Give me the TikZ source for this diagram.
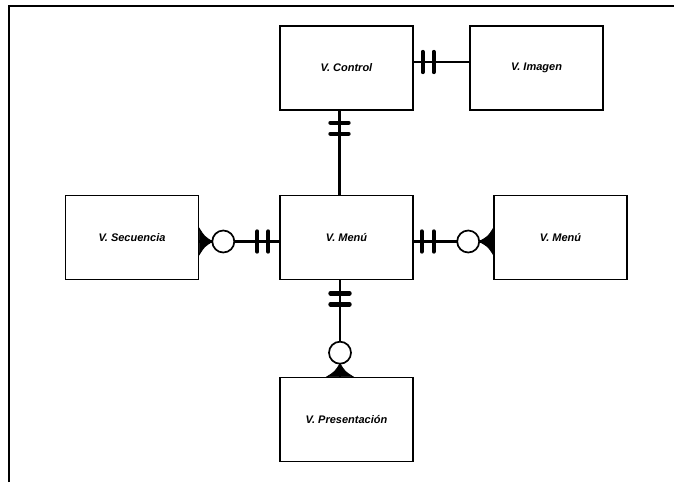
\documentclass[tikz,border=0pt]{standalone}
\usepackage{fontspec}
\setmainfont{Liberation Sans}
\usetikzlibrary{calc}
\begin{document}
\begin{tikzpicture}[x=1pt,y=-1pt,
  ent/.style={draw,line width=1.6pt,minimum width=133pt,minimum height=84pt,inner sep=0pt,
    font=\bfseries\itshape\fontsize{11}{13}\selectfont},
  rel/.style={line width=2.8pt},
  tickmark/.style={line width=4.4pt,line cap=round},
  zeromark/.style={line width=1.7pt,fill=white},
  crowmark/.style={fill=black,draw=black,line width=0.8pt}]
\useasboundingbox (0,0) rectangle (674,482);
\draw[line width=2.5pt] (9,482) -- (9,6) -- (674,6);

\node[ent] (ctrl) at (346.5,68) {V. Control};
\node[ent] (img) at (536.5,68) {V. Imagen};
\node[ent] (sec) at (132,237.5) {V. Secuencia};
\node[ent] (menu) at (346.5,237.5) {V. Menú};
\node[ent] (menu2) at (560.5,237.5) {V. Menú};
\node[ent] (pres) at (346.5,419.5) {V. Presentación};

% V. Control -- V. Imagen
\draw[rel] ($(ctrl.east)+(0,-6)$) -- ($(img.west)+(0,-6)$);
\foreach \d in {9,20}
  \draw[tickmark] ($(ctrl.east)+(\d,-16)$) -- ($(ctrl.east)+(\d,4)$);

% V. Control -- V. Menu
\draw[rel] ($(ctrl.south)+(-7,0)$) -- ($(menu.north)+(-7,0)$);
\foreach \d in {12,23}
  \draw[tickmark] ($(ctrl.south)+(-16,\d)$) -- ($(ctrl.south)+(2,\d)$);

% V. Secuencia -- V. Menu
\draw[rel] ($(sec.east)+(0,4)$) -- ($(menu.west)+(0,4)$);
\foreach \d in {-22,-11}
  \draw[tickmark] ($(menu.west)+(\d,-6)$) -- ($(menu.west)+(\d,14)$);
\fill[crowmark] ($(sec.east)+(13,4)$) .. controls ($(sec.east)+(5,-1)$) .. ($(sec.east)+(0,-9)$) -- ($(sec.east)+(0,17)$) .. controls ($(sec.east)+(5,9)$) .. cycle;
\draw[zeromark] ($(sec.east)+(24,4)$) circle (11);

% V. Menu -- V. Menu
\draw[rel] ($(menu.east)+(0,4)$) -- ($(menu2.west)+(0,4)$);
\foreach \d in {8,20}
  \draw[tickmark] ($(menu.east)+(\d,-6)$) -- ($(menu.east)+(\d,14)$);
\fill[crowmark] ($(menu2.west)+(-14,4)$) .. controls ($(menu2.west)+(-5,-1)$) .. ($(menu2.west)+(0,-9)$) -- ($(menu2.west)+(0,17)$) .. controls ($(menu2.west)+(-5,9)$) .. cycle;
\draw[zeromark] ($(menu2.west)+(-25,4)$) circle (11);

% V. Menu -- V. Presentacion
\draw[rel] ($(menu.south)+(-6.5,0)$) -- ($(pres.north)+(-6.5,0)$);
\foreach \d in {13,24}
  \draw[tickmark] ($(menu.south)+(-16,\d)$) -- ($(menu.south)+(3,\d)$);
\fill[crowmark] ($(pres.north)+(-6.5,-13)$) .. controls ($(pres.north)+(-11.5,-5)$) .. ($(pres.north)+(-19.5,0)$) -- ($(pres.north)+(6.5,0)$) .. controls ($(pres.north)+(-1.5,-5)$) .. cycle;
\draw[zeromark] ($(pres.north)+(-6.5,-24)$) circle (11);
\end{tikzpicture}
\end{document}
